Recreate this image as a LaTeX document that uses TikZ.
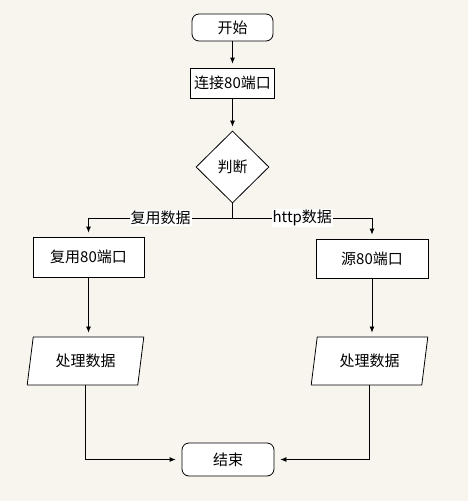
\documentclass[tikz,border=0pt]{standalone}
\usepackage{fontspec}
\setmainfont{Noto Sans CJK SC}
\usetikzlibrary{shapes.geometric,arrows.meta}
\definecolor{bgc}{HTML}{F8F5EE}
\begin{document}
\begin{tikzpicture}[x=1pt,y=-1pt,
  every node/.style={font=\fontsize{15}{17}\selectfont, line width=0.8pt},
  termbox/.style={draw, rounded corners=7pt, fill=white, inner sep=0pt},
  procbox/.style={draw, fill=white, inner sep=0pt},
  decbox/.style={draw, diamond, aspect=1, fill=white, minimum width=73pt, minimum height=72pt, inner sep=0pt},
  iobox/.style={draw, trapezium, trapezium left angle=76, trapezium right angle=104, trapezium stretches=true, fill=white, minimum width=117pt, minimum height=48pt, inner sep=0pt},
  flow/.style={draw, line width=0.8pt, -{Latex[length=6pt,width=5pt]}, shorten >=4pt},
  plain/.style={draw, line width=0.8pt},
  lbl/.style={fill=white, inner sep=1pt}]
\fill[bgc] (0,0) rectangle (468,501);
\useasboundingbox (0,0) rectangle (468,501);

\node[termbox, minimum width=81pt, minimum height=27pt] (start) at (232.5,27.5) {开始};
\node[procbox, minimum width=84pt, minimum height=30pt] (conn) at (232.5,83) {连接80端口};
\node[decbox] (judge) at (232.5,167) {判断};
\node[procbox, minimum width=111pt, minimum height=40pt] (lbox) at (88.5,257) {复用80端口};
\node[procbox, minimum width=112pt, minimum height=39pt] (rbox) at (372,258.5) {源80端口};
\node[iobox] (lpara) at (85.5,361) {处理数据};
\node[iobox] (rpara) at (369.5,361) {处理数据};
\node[termbox, minimum width=92pt, minimum height=33pt] (end) at (228,459.5) {结束};

\coordinate (split) at (232.5,218);

\draw[flow] (start) -- (conn);
\draw[flow] (conn) -- (judge);
\draw[plain] (judge.south) -- (split);
\draw[flow] (split) -| node[lbl, pos=0.25] (lab1) {复用数据} (lbox.north);
\draw[flow] (split) -| node[lbl, pos=0.25] (lab2) {http数据} (rbox.north);
\draw[flow] (lbox) -- (lbox.south |- lpara.north);
\draw[flow] (rbox) -- (rbox.south |- rpara.north);
\draw[flow, shorten >=6pt] (lpara.south) |- (end.west);
\draw[flow, shorten >=6pt] (rpara.south) |- (end.east);
\end{tikzpicture}
\end{document}
